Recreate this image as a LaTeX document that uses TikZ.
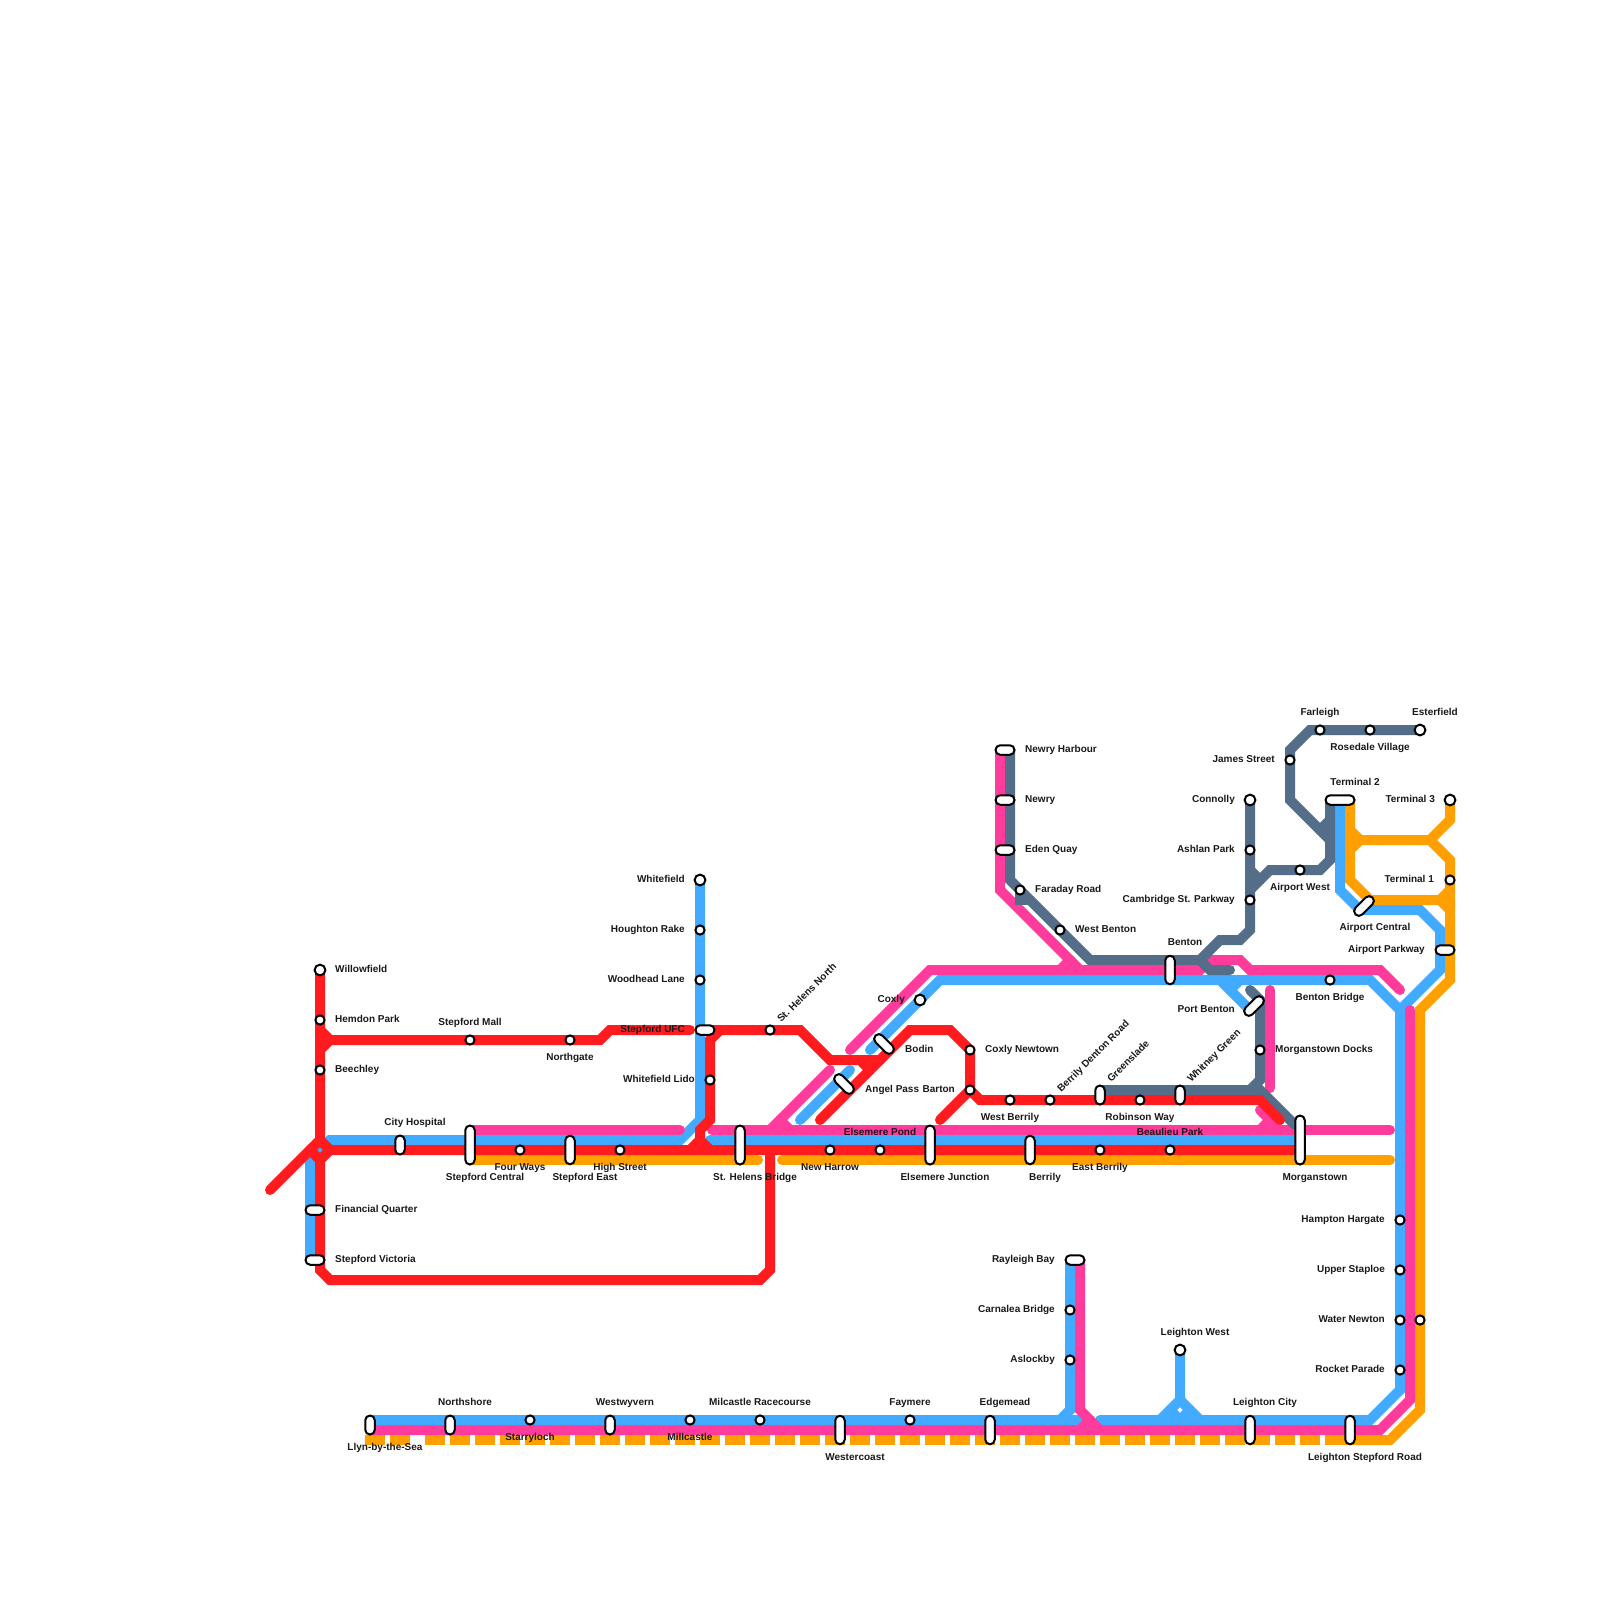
\documentclass[tikz,border=0pt]{standalone}
\usepackage{fontspec}
\setmainfont{Liberation Sans}
\usetikzlibrary{backgrounds}

\definecolor{linered}{RGB}{255,27,30}
\definecolor{lineblue}{RGB}{66,171,255}
\definecolor{linepink}{RGB}{255,60,155}
\definecolor{lineslate}{RGB}{84,110,138}
\definecolor{lineorange}{RGB}{255,160,0}

\begin{document}
\begin{tikzpicture}[
  x=1pt,y=-1pt,
  stationdot/.style={draw,fill=white,circle,line width=2pt,inner sep=0pt,minimum size=9.2pt},
  stationend/.style={stationdot,minimum size=10.8pt},
  stationpill/.style={draw,fill=white,rectangle,rounded corners=4.7pt,line width=2pt,inner sep=0pt,minimum height=9.5pt,minimum width=#1},
  stationtext/.style={font=\fontsize{10}{12}\selectfont\bfseries,inner sep=0pt,text=black!90,text height=6pt,text depth=0pt},
  textright/.style={stationtext,anchor=west},
  textleft/.style={stationtext,anchor=east},
  textmid/.style={stationtext,anchor=center},
  textrising/.style={stationtext,anchor=west,rotate=45},
  metroline/.style={line width=10pt,line cap=round,line join=miter},
  redline/.style={metroline,linered},
  blueline/.style={metroline,lineblue},
  pinkline/.style={metroline,linepink},
  slateline/.style={metroline,lineslate},
  orangeline/.style={metroline,lineorange},
  orangedash/.style={line width=10pt,line cap=butt,lineorange,dash pattern=on 20pt off 5pt}
]
  \useasboundingbox (0,0) rectangle (1600,1600);

  % west end
  \node[stationend] (willowfield) at (320,970) {};
  \node[textright] (willowfieldtext) at (335,969) {Willowfield};
  \node[stationdot] (hemdon) at (320,1020) {};
  \node[textright] (hemdontext) at (335,1019) {Hemdon Park};
  \node[stationdot] (beechley) at (320,1070) {};
  \node[textright] (beechleytext) at (335,1069) {Beechley};
  \node[stationpill=19pt] (financial) at (315,1210) {};
  \node[textright] (financialtext) at (335,1209) {Financial Quarter};
  \node[stationpill=19pt] (victoria) at (315,1260) {};
  \node[textright] (victoriatext) at (335,1259) {Stepford Victoria};
  \node[stationdot] (mall) at (470,1040) {};
  \node[textmid] (malltext) at (470,1022) {Stepford Mall};
  \node[stationdot] (northgate) at (570,1040) {};
  \node[textmid] (northgatetext) at (570,1057) {Northgate};

  % main line
  \node[stationpill=19pt,rotate=90] (hospital) at (400,1145) {};
  \node[textmid] (hospitaltext) at (415,1122) {City Hospital};
  \node[stationpill=39pt,rotate=90] (central) at (470,1145) {};
  \node[textmid] (centraltext) at (485,1177) {Stepford Central};
  \node[stationdot] (fourways) at (520,1150) {};
  \node[textmid] (fourwaystext) at (520,1167) {Four Ways};
  \node[stationpill=28.5pt,rotate=90] (east) at (570,1150) {};
  \node[textmid] (easttext) at (585,1177) {Stepford East};
  \node[stationdot] (highstreet) at (620,1150) {};
  \node[textmid] (highstreettext) at (620,1167) {High Street};
  \node[stationpill=39pt,rotate=90] (helensbridge) at (740,1145) {};
  \node[textmid] (helensbridgetext) at (755,1177) {St. Helens Bridge};
  \node[stationdot] (harrow) at (830,1150) {};
  \node[textmid] (harrowtext) at (830,1167) {New Harrow};
  \node[stationdot] (pond) at (880,1150) {};
  \node[textmid] (pondtext) at (880,1132) {Elsemere Pond};
  \node[stationpill=39pt,rotate=90] (elsemere) at (930,1145) {};
  \node[textmid] (elsemeretext) at (945,1177) {Elsemere Junction};
  \node[stationpill=28.5pt,rotate=90] (berrily) at (1030,1150) {};
  \node[textmid] (berrilytext) at (1045,1177) {Berrily};
  \node[stationdot] (eastberrily) at (1100,1150) {};
  \node[textmid] (eastberrilytext) at (1100,1167) {East Berrily};
  \node[stationdot] (beaulieu) at (1170,1150) {};
  \node[textmid] (beaulieutext) at (1170,1132) {Beaulieu Park};
  \node[stationpill=49pt,rotate=90] (morganstown) at (1300,1140) {};
  \node[textmid] (morganstowntext) at (1315,1177) {Morganstown};

  % whitefield branch
  \node[stationend] (whitefield) at (700,880) {};
  \node[textleft] (whitefieldtext) at (685,879) {Whitefield};
  \node[stationdot] (houghton) at (700,930) {};
  \node[textleft] (houghtontext) at (685,929) {Houghton Rake};
  \node[stationdot] (woodhead) at (700,980) {};
  \node[textleft] (woodheadtext) at (685,979) {Woodhead Lane};
  \node[stationpill=19pt] (ufc) at (705,1030) {};
  \node[textleft] (ufctext) at (685,1029) {Stepford UFC};
  \node[stationdot] (lido) at (710,1080) {};
  \node[textleft] (lidotext) at (695,1079) {Whitefield Lido};

  % middle section
  \node[stationdot] (helensnorth) at (770,1030) {};
  \node[textrising] (helensnorthtext) at (779,1021) {St. Helens North};
  \node[stationend] (coxly) at (920,1000) {};
  \node[textleft] (coxlytext) at (905,999) {Coxly};
  \node[stationpill=24pt,rotate=-45] (bodin) at (884,1044) {};
  \node[textright] (bodintext) at (905,1049) {Bodin};
  \node[stationpill=24pt,rotate=-45] (angelpass) at (844,1084) {};
  \node[textright] (angelpasstext) at (865,1089) {Angel Pass};
  \node[stationdot] (coxlynewtown) at (970,1050) {};
  \node[textright] (coxlynewtowntext) at (985,1049) {Coxly Newtown};
  \node[stationdot] (barton) at (970,1090) {};
  \node[textleft] (bartontext) at (955,1089) {Barton};
  \node[stationdot] (westberrily) at (1010,1100) {};
  \node[textmid] (westberrilytext) at (1010,1117) {West Berrily};
  \node[stationdot] (dentonroad) at (1050,1100) {};
  \node[textrising] (dentonroadtext) at (1059,1091) {Berrily Denton Road};
  \node[stationpill=19pt,rotate=90] (greenslade) at (1100,1095) {};
  \node[textrising] (greensladetext) at (1109,1081) {Greenslade};
  \node[stationdot] (robinson) at (1140,1100) {};
  \node[textmid] (robinsontext) at (1140,1117) {Robinson Way};
  \node[stationpill=19pt,rotate=90] (whitney) at (1180,1095) {};
  \node[textrising] (whitneytext) at (1189,1081) {Whitney Green};

  % newry and benton
  \node[stationpill=19pt] (harbour) at (1005,750) {};
  \node[textright] (harbourtext) at (1025,749) {Newry Harbour};
  \node[stationpill=19pt] (newry) at (1005,800) {};
  \node[textright] (newrytext) at (1025,799) {Newry};
  \node[stationpill=19pt] (edenquay) at (1005,850) {};
  \node[textright] (edenquaytext) at (1025,849) {Eden Quay};
  \node[stationdot] (faraday) at (1020,890) {};
  \node[textright] (faradaytext) at (1035,889) {Faraday Road};
  \node[stationdot] (westbenton) at (1060,930) {};
  \node[textright] (westbentontext) at (1075,929) {West Benton};
  \node[stationpill=28.5pt,rotate=90] (benton) at (1170,970) {};
  \node[textmid] (bentontext) at (1185,942) {Benton};
  \node[stationpill=24pt,rotate=45] (portbenton) at (1254,1006) {};
  \node[textleft] (portbentontext) at (1235,1009) {Port Benton};
  \node[stationdot] (docks) at (1260,1050) {};
  \node[textright] (dockstext) at (1275,1049) {Morganstown Docks};
  \node[stationdot] (bentonbridge) at (1330,980) {};
  \node[textmid] (bentonbridgetext) at (1330,997) {Benton Bridge};

  % north east
  \node[stationend] (connolly) at (1250,800) {};
  \node[textleft] (connollytext) at (1235,799) {Connolly};
  \node[stationdot] (ashlan) at (1250,850) {};
  \node[textleft] (ashlantext) at (1235,849) {Ashlan Park};
  \node[stationdot] (cambridge) at (1250,900) {};
  \node[textleft] (cambridgetext) at (1235,899) {Cambridge St. Parkway};
  \node[stationdot] (airportwest) at (1300,870) {};
  \node[textmid] (airportwesttext) at (1300,887) {Airport West};
  \node[stationdot] (james) at (1290,760) {};
  \node[textleft] (jamestext) at (1275,759) {James Street};
  \node[stationdot] (farleigh) at (1320,730) {};
  \node[textmid] (farleightext) at (1320,712) {Farleigh};
  \node[stationdot] (rosedale) at (1370,730) {};
  \node[textmid] (rosedaletext) at (1370,747) {Rosedale Village};
  \node[stationend] (esterfield) at (1420,730) {};
  \node[textmid] (esterfieldtext) at (1435,712) {Esterfield};
  \node[stationpill=29pt] (terminaltwo) at (1340,800) {};
  \node[textmid] (terminaltwotext) at (1355,782) {Terminal 2};
  \node[stationend] (terminalthree) at (1450,800) {};
  \node[textleft] (terminalthreetext) at (1435,799) {Terminal 3};
  \node[stationdot] (terminalone) at (1450,880) {};
  \node[textleft] (terminalonetext) at (1434,879) {Terminal 1};
  \node[stationpill=24pt,rotate=45] (airportcentral) at (1364,906) {};
  \node[textmid] (airportcentraltext) at (1375,927) {Airport Central};
  \node[stationpill=19pt] (airportparkway) at (1445,950) {};
  \node[textleft] (airportparkwaytext) at (1425,949) {Airport Parkway};

  % south east
  \node[stationdot] (hampton) at (1400,1220) {};
  \node[textleft] (hamptontext) at (1385,1219) {Hampton Hargate};
  \node[stationdot] (staploe) at (1400,1270) {};
  \node[textleft] (staploetext) at (1385,1269) {Upper Staploe};
  \node[stationdot] (newton) at (1400,1320) {};
  \node[textleft] (newtontext) at (1385,1319) {Water Newton};
  \node[stationdot] (newtoneast) at (1420,1320) {};
  \node[stationdot] (rocket) at (1400,1370) {};
  \node[textleft] (rockettext) at (1385,1369) {Rocket Parade};
  \node[stationpill=19pt] (rayleigh) at (1075,1260) {};
  \node[textleft] (rayleightext) at (1055,1259) {Rayleigh Bay};
  \node[stationdot] (carnalea) at (1070,1310) {};
  \node[textleft] (carnaleatext) at (1055,1309) {Carnalea Bridge};
  \node[stationdot] (aslockby) at (1070,1360) {};
  \node[textleft] (aslockbytext) at (1055,1359) {Aslockby};
  \node[stationend] (leightonwest) at (1180,1350) {};
  \node[textmid] (leightonwesttext) at (1195,1332) {Leighton West};

  % coast line
  \node[stationpill=19pt,rotate=90] (llyn) at (370,1425) {};
  \node[textmid] (llyntext) at (385,1447) {Llyn-by-the-Sea};
  \node[stationpill=19pt,rotate=90] (northshore) at (450,1425) {};
  \node[textmid] (northshoretext) at (465,1402) {Northshore};
  \node[stationdot] (starryloch) at (530,1420) {};
  \node[textmid] (starrylochtext) at (530,1437) {Starryloch};
  \node[stationpill=19pt,rotate=90] (westwyvern) at (610,1425) {};
  \node[textmid] (westwyverntext) at (625,1402) {Westwyvern};
  \node[stationdot] (millcastle) at (690,1420) {};
  \node[textmid] (millcastletext) at (690,1437) {Millcastle};
  \node[stationdot] (racecourse) at (760,1420) {};
  \node[textmid] (racecoursetext) at (760,1402) {Milcastle Racecourse};
  \node[stationpill=28.5pt,rotate=90] (westercoast) at (840,1430) {};
  \node[textmid] (westercoasttext) at (855,1457) {Westercoast};
  \node[stationdot] (faymere) at (910,1420) {};
  \node[textmid] (faymeretext) at (910,1402) {Faymere};
  \node[stationpill=28.5pt,rotate=90] (edgemead) at (990,1430) {};
  \node[textmid] (edgemeadtext) at (1005,1402) {Edgemead};
  \node[stationpill=28.5pt,rotate=90] (leightoncity) at (1250,1430) {};
  \node[textmid] (leightoncitytext) at (1265,1402) {Leighton City};
  \node[stationpill=28.5pt,rotate=90] (leightonroad) at (1350,1430) {};
  \node[textmid] (leightonroadtext) at (1365,1457) {Leighton Stepford Road};

  \begin{scope}[on background layer]
    % orange
    \draw[orangedash] (365,1440) -- (410,1440);
    \draw[orangedash] (425,1440) -- (1345,1440);
    \draw[orangeline,line cap=butt] (1345,1440) -- (1390,1440) -- (1420,1410) -- (1420,1010) -- (1450,980) -- (1450,860) -- (1430,840) -- (1360,840);
    \draw[orangeline] (470,1160) -- (758,1160);
    \draw[orangeline] (782,1160) -- (1390,1160);
    \draw[orangeline] (terminalthree.center) -- (1450,820) -- (1430,840);
    \draw[orangeline] (1350,800) -- (1350,880) -- (1370,900) -- (1440,900) -- (1450,890);
    \draw[orangeline] (1440,900) -- (1450,910);
    \draw[orangeline] (1350,830) -- (1360,840) -- (1350,850);

    % blue
    \draw[blueline] (whitefield.center) -- (700,1120) -- (680,1140) -- (330,1140) -- (310,1160) -- (310,1260);
    \draw[blueline] (710,1140) -- (1300,1140);
    \draw[blueline] (870,1050) -- (940,980) -- (1370,980) -- (1400,1010) -- (1400,1390) -- (1370,1420) -- (1100,1420);
    \draw[blueline] (800,1120) -- (850,1070);
    \draw[blueline] (1340,800) -- (1340,890) -- (1360,910) -- (1420,910) -- (1440,930) -- (1440,970) -- (1400,1010);
    \draw[blueline] (1220,980) -- (1250,1010);
    \draw[blueline] (1230,990) -- (1240,980);
    \draw[blueline] (370,1420) -- (1080,1420);
    \draw[blueline] (1070,1260) -- (1070,1410) -- (1060,1420);
    \draw[blueline] (leightonwest.center) -- (1180,1400) -- (1160,1420);
    \draw[blueline] (1180,1400) -- (1200,1420);
    \draw[blueline] (1170,1410) -- (1180,1420) -- (1190,1410);

    % pink
    \draw[pinkline] (470,1130) -- (680,1130);
    \draw[pinkline] (712,1130) -- (1390,1130);
    \draw[pinkline] (830,1070) -- (770,1130);
    \draw[pinkline] (780,1120) -- (790,1130);
    \draw[pinkline] (850,1050) -- (930,970) -- (1200,970) -- (1210,960) -- (1240,960) -- (1250,970) -- (1380,970) -- (1400,990);
    \draw[pinkline] (1000,750) -- (1000,890) -- (1080,970);
    \draw[pinkline] (1070,960) -- (1060,970);
    \draw[pinkline] (1270,990) -- (1270,1088);
    \draw[pinkline] (1260,1110) -- (1280,1130);
    \draw[pinkline] (1270,1120) -- (1260,1130);
    \draw[pinkline] (1410,1010) -- (1410,1400) -- (1380,1430) -- (370,1430);
    \draw[pinkline] (1080,1260) -- (1080,1410) -- (1100,1430);
    \draw[pinkline] (1090,1420) -- (1080,1430);

    % slate
    \draw[slateline] (1010,750) -- (1010,880) -- (1090,960) -- (1200,960) -- (1220,940) -- (1240,940) -- (1250,930) -- (connolly.center);
    \draw[slateline] (faraday.center) -- (1020,900) -- (1030,900);
    \draw[slateline] (1200,960) -- (1210,970) -- (1230,970);
    \draw[slateline] (1250,890) -- (1270,870) -- (1320,870) -- (1330,860) -- (1330,800);
    \draw[slateline] (1250,870) -- (1260,880);
    \draw[slateline] (esterfield.center) -- (1310,730) -- (1290,750) -- (1290,800) -- (1330,840);
    \draw[slateline] (1320,830) -- (1330,820);
    \draw[slateline] (1100,1090) -- (1250,1090) -- (1260,1080) -- (1260,1000) -- (1250,990);
    \draw[slateline] (1250,1090) -- (1260,1090) -- (1295,1125);

    % red
    \draw[redline] (willowfield.center) -- (320,1140) -- (330,1150) -- (1300,1150);
    \draw[redline] (270,1190) -- (320,1140);
    \draw[redline] (310,1150) -- (320,1160) -- (330,1150);
    \draw[redline] (320,1160) -- (320,1270) -- (330,1280) -- (760,1280) -- (770,1270) -- (770,1150);
    \draw[redline] (320,1030) -- (330,1040) -- (600,1040) -- (610,1030) -- (690,1030);
    \draw[redline] (320,1050) -- (330,1040);
    \draw[redline] (720,1030) -- (710,1040) -- (710,1120) -- (700,1130) -- (700,1140) -- (690,1150);
    \draw[redline] (700,1140) -- (710,1150);
    \draw[redline] (ufc.center) -- (800,1030) -- (830,1060) -- (880,1060);
    \draw[redline] (860,1060) -- (870,1070);
    \draw[redline] (820,1120) -- (910,1030) -- (950,1030) -- (970,1050) -- (970,1090) -- (980,1100) -- (1260,1100) -- (1280,1120);
    \draw[redline] (970,1090) -- (940,1120);
  \end{scope}
\end{tikzpicture}
\end{document}
